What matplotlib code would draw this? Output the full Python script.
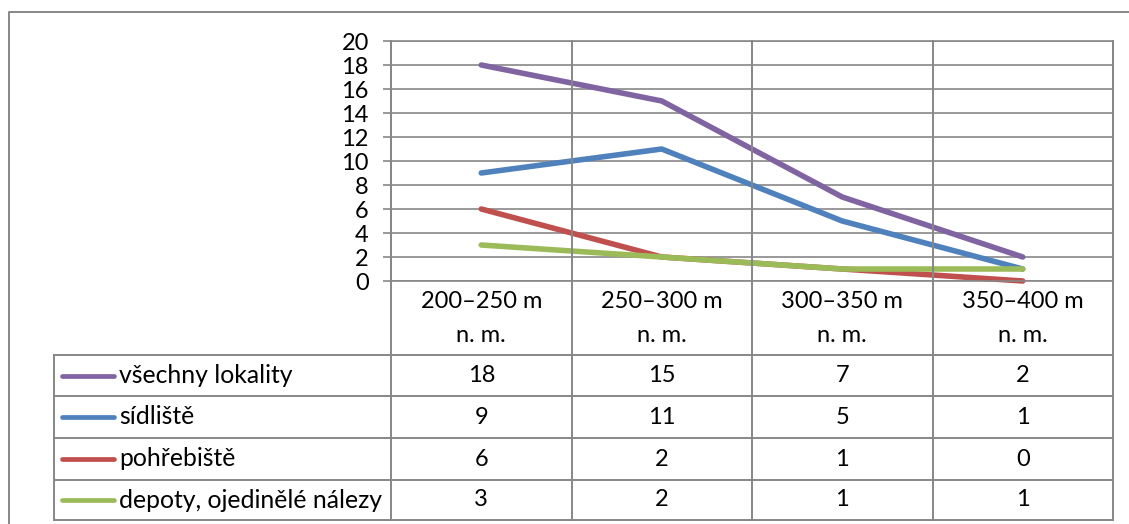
import matplotlib.pyplot as plt
import matplotlib.transforms as mtransforms
from matplotlib.lines import Line2D

categories = ["200–250 m", "250–300 m", "300–350 m", "350–400 m"]
category_suffix = "n. m."
series_names = ["všechny lokality", "sídliště", "pohřebiště", "depoty, ojedinělé nálezy"]
vsechny = [18, 15, 7, 2]
sidliste = [9, 11, 5, 1]
pohrebiste = [6, 2, 1, 0]
depoty = [3, 2, 1, 1]
colors = ["#8064A2", "#4F81BD", "#C0504D", "#9BBB59"]

W, H = 1129, 524
grid_color = "#878787"
fs = 17
plt.rcParams['font.family'] = ['Lato', 'DejaVu Sans']

fig = plt.figure(figsize=(W / 100, H / 100), dpi=100)


def fy(py):
    # pixel row from top -> figure fraction
    return 1 - py / H


def fx(px):
    return px / W


ax = fig.add_axes([fx(391), fy(281), fx(1113) - fx(391), fy(41) - fy(281)])
x = list(range(len(categories)))
all_series = [vsechny, sidliste, pohrebiste, depoty]
for vals, c in zip(all_series, colors):
    ax.plot(x, vals, color=c, linewidth=4.0, solid_capstyle='round',
            solid_joinstyle='round', clip_on=False)

ax.set_xlim(-0.5, len(categories) - 0.5)
ax.set_ylim(0, 20)
ax.set_yticks(range(0, 21, 2))
ax.set_xticks([])
ax.tick_params(axis='y', length=6, width=1.2, color=grid_color, pad=10, labelsize=fs)
ax.yaxis.grid(True, color=grid_color, linewidth=1.2)
ax.set_axisbelow(True)
for s in ax.spines.values():
    s.set_color(grid_color)
    s.set_linewidth(1.2)

# data table under the plot
trans = mtransforms.blended_transform_factory(ax.transData, fig.transFigure)
row_lines = [355, 396, 438, 480, 520]
lw = 1.4

for i in range(len(categories) + 1):
    fig.add_artist(Line2D([i - 0.5, i - 0.5], [fy(41), fy(520)], transform=trans,
                          color=grid_color, linewidth=lw))
for py in row_lines:
    fig.add_artist(Line2D([fx(54), fx(1113)], [fy(py), fy(py)], color=grid_color, linewidth=lw))
fig.add_artist(Line2D([fx(54), fx(54)], [fy(355), fy(520)], color=grid_color, linewidth=lw))

for i, cat in enumerate(categories):
    fig.text(i, fy(301), cat, transform=trans, ha='center', va='center', fontsize=fs)
    fig.text(i, fy(336), category_suffix, transform=trans, ha='center', va='center', fontsize=fs)

for r, (name, vals, c) in enumerate(zip(series_names, all_series, colors)):
    yc = fy((row_lines[r] + row_lines[r + 1]) / 2)
    fig.add_artist(Line2D([fx(62), fx(114)], [yc, yc], color=c, linewidth=3.4,
                          solid_capstyle='round'))
    fig.text(fx(119), yc, name, ha='left', va='center', fontsize=17.8)
    for i, v in enumerate(vals):
        fig.text(i, yc, str(v), transform=trans, ha='center', va='center', fontsize=fs)

# outer chart frame
fig.add_artist(Line2D([fx(9), fx(9), fx(1129)], [fy(530), fy(12), fy(12)],
                      color=grid_color, linewidth=lw))

fig.savefig("out.png", dpi=100)
